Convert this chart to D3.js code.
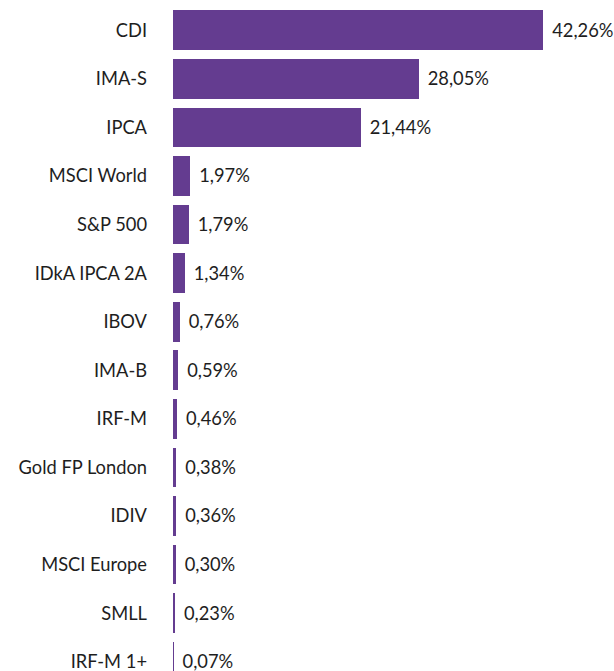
<!DOCTYPE html>
<html>
<head>
<meta charset="utf-8">
<script src="https://cdn.jsdelivr.net/npm/d3@7"></script>
<style>
  body { margin: 0; background: #fff; }
  text { font-family: Lato, "Open Sans", sans-serif; fill: #1e1e1e; }
</style>
</head>
<body>
<div id="chart"></div>
<script>
// categories and values (percent)
var categories = ["CDI", "IMA-S", "IPCA", "MSCI World", "S&P 500", "IDkA IPCA 2A", "IBOV",
  "IMA-B", "IRF-M", "Gold FP London", "IDIV", "MSCI Europe", "SMLL", "IRF-M 1+"];
var values = [42.26, 28.05, 21.44, 1.97, 1.79, 1.34, 0.76, 0.59, 0.46, 0.38, 0.36, 0.30, 0.23, 0.07];
var valueLabels = ["42,26%", "28,05%", "21,44%", "1,97%", "1,79%", "1,34%", "0,76%",
  "0,59%", "0,46%", "0,38%", "0,36%", "0,30%", "0,23%", "0,07%"];

var width = 614, height = 671;
var left = 173;

var svg = d3.select("#chart").append("svg")
  .attr("width", width)
  .attr("height", height);

var x = d3.scaleLinear()
  .domain([0, 50])
  .range([left, left + 438]);

var y = d3.scaleBand()
  .domain(categories)
  .range([6, 686])
  .paddingInner(0.18)
  .paddingOuter(0.09);

var rows = categories.map(function (c, i) {
  return { cat: c, val: values[i], label: valueLabels[i] };
});

/* bars */
svg.selectAll(".bar")
  .data(rows)
  .enter().append("rect")
  .attr("class", "bar")
  .attr("x", x(0))
  .attr("y", function (d) { return y(d.cat); })
  .attr("width", function (d) { return x(d.val) - x(0); })
  .attr("height", y.bandwidth())
  .attr("shape-rendering", "crispEdges")
  .attr("fill", "#643c90");

/* category labels */
svg.selectAll(".cat")
  .data(rows)
  .enter().append("text")
  .attr("class", "cat")
  .attr("x", left - 26)
  .attr("y", function (d) { return y(d.cat) + y.bandwidth() / 2; })
  .attr("dy", "0.35em")
  .attr("text-anchor", "end")
  .style("font-size", "18.3px")
  .text(function (d) { return d.cat; });

/* value labels */
svg.selectAll(".val")
  .data(rows)
  .enter().append("text")
  .attr("class", "val")
  .attr("x", function (d) { return x(d.val) + 9; })
  .attr("y", function (d) { return y(d.cat) + y.bandwidth() / 2; })
  .attr("dy", "0.35em")
  .style("font-size", "18.3px")
  .text(function (d) { return d.label; });
</script>
</body>
</html>
